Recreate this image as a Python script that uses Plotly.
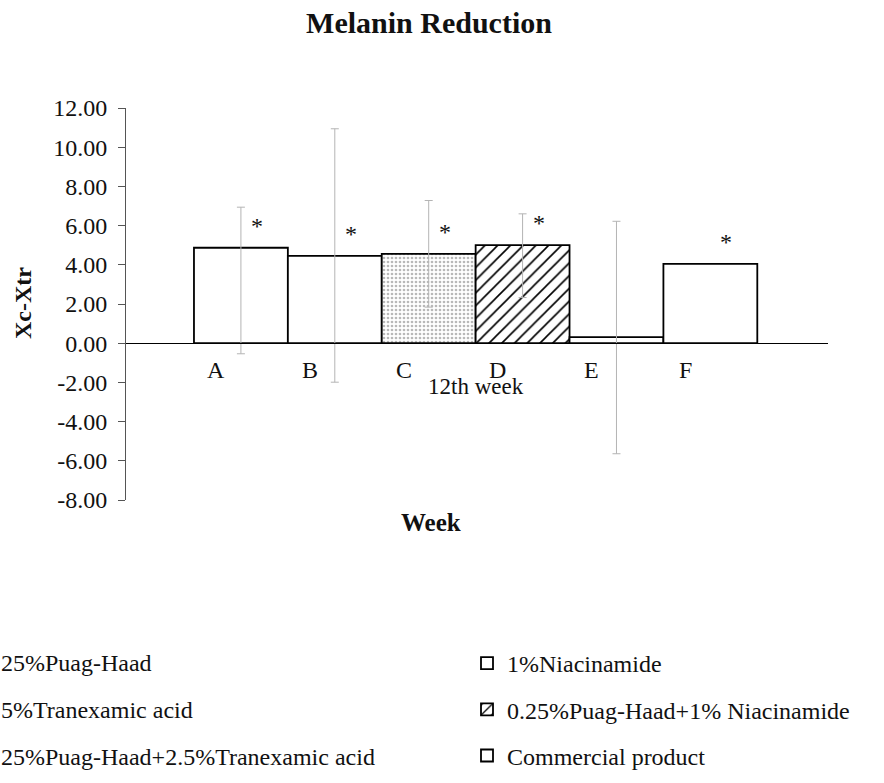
import plotly.graph_objects as go

# ---------------- data ----------------
categories = ["A", "B", "C", "D", "E", "F"]
series_names = [
    "0.25%Puag-Haad",
    "2.5%Tranexamic acid",
    "0.25%Puag-Haad+2.5%Tranexamic acid",
    "0.25%Puag-Haad+1% Niacinamide",
    "1%Niacinamide",
    "Commercial product",
]
values = [4.87, 4.46, 4.56, 5.00, 0.31, 4.05]
err_plus = [2.07, 6.48, 2.72, 1.60, 5.91, 0.0]
err_minus = [5.41, 6.45, 2.72, 2.67, 5.95, 0.0]
significance = ["*", "*", "*", "*", "", "*"]
x_tick_label = ["12th week"]
y_tick_values = [-8, -6, -4, -2, 0, 2, 4, 6, 8, 10, 12]
y_tick_labels = ["-8.00", "-6.00", "-4.00", "-2.00", "0.00", "2.00",
                 "4.00", "6.00", "8.00", "10.00", "12.00"]
# visible (cropped) legend texts of the left column
left_legend_texts = ["25%Puag-Haad", "5%Tranexamic acid",
                     "25%Puag-Haad+2.5%Tranexamic acid"]
legend_rank = [None, None, None, 2, 1, 3]

FONT = "Liberation Serif, Times New Roman, serif"

styles = [
    dict(shape="", fg="black", size=8, sol=0.2),
    dict(shape="", fg="black", size=8, sol=0.2),
    dict(shape=".", fg="#b8b8b8", size=4, sol=0.35),
    dict(shape="/", fg="black", size=9, sol=0.18),
    dict(shape="", fg="black", size=8, sol=0.2),
    dict(shape="", fg="black", size=8, sol=0.2),
]

fig = go.Figure()
for i, cat in enumerate(categories):
    st = styles[i]
    show_leg = legend_rank[i] is not None
    fig.add_trace(go.Bar(
        x=[i], y=[values[i]], width=1,
        name=series_names[i],
        legendgroup=cat,
        legendrank=legend_rank[i] if show_leg else 1000,
        showlegend=show_leg,
        marker=dict(
            color="white",
            line=dict(color="black", width=1.8),
            pattern=dict(shape=st["shape"], fgcolor=st["fg"], bgcolor="white",
                         size=st["size"], solidity=st["sol"], fillmode="replace"),
        ),
        error_y=dict(type="data", symmetric=False,
                     array=[err_plus[i]], arrayminus=[err_minus[i]],
                     visible=(err_plus[i] + err_minus[i]) > 0,
                     color="#b4b4b4", thickness=1, width=4),
    ))

# category letters below the zero line, significance marks above bars
for i, cat in enumerate(categories):
    fig.add_annotation(x=i, y=0, xref="x", yref="y", text=cat, showarrow=False,
                       xshift=-25, yshift=-27, yanchor="middle",
                       font=dict(family=FONT, size=24, color="#111"))
    if significance[i]:
        fig.add_annotation(x=i, y=values[i], xref="x", yref="y",
                           text=significance[i], showarrow=False,
                           xshift=16, yshift=7, yanchor="bottom",
                           font=dict(family=FONT, size=24, color="#111"))

# plot area in pixels: x 126..828, y 108..500
PL, PR, PT, PB = 126, 828, 108, 500
def px_x(p):
    return (p - PL) / (PR - PL)
def px_y(p):
    return (PB - p) / (PB - PT)

# axis titles
fig.add_annotation(x=px_x(23), y=px_y(303), xref="paper", yref="paper",
                   text="<b>Xc-Xtr</b>", textangle=-90, showarrow=False,
                   xanchor="center", yanchor="middle",
                   font=dict(family=FONT, size=24, color="#111"))
fig.add_annotation(x=px_x(431), y=px_y(522), xref="paper", yref="paper",
                   text="<b>Week</b>", showarrow=False,
                   xanchor="center", yanchor="middle",
                   font=dict(family=FONT, size=25, color="#111"))

# left legend column (cropped at page edge in the reference)
row_y = [663, 710, 757]
for t, ry in zip(left_legend_texts, row_y):
    fig.add_annotation(x=px_x(-1), y=px_y(ry), xref="paper", yref="paper",
                       text=t, showarrow=False, xanchor="left", yanchor="middle",
                       font=dict(family=FONT, size=24, color="#111"))

fig.update_layout(
    width=884, height=783,
    margin=dict(l=PL, r=884 - PR, t=PT, b=783 - PB, autoexpand=False),
    paper_bgcolor="white", plot_bgcolor="white",
    barmode="overlay",
    showlegend=True,
    title=dict(text="<b>Melanin Reduction</b>", x=429 / 884, xanchor="center",
               y=1 - 22 / 783, yanchor="middle",
               font=dict(family=FONT, size=30, color="#111")),
    legend=dict(x=px_x(467), y=px_y(641), xanchor="left", yanchor="top",
                traceorder="grouped", tracegroupgap=12,
                font=dict(family=FONT, size=24, color="#111"),
                bgcolor="rgba(0,0,0,0)", borderwidth=0),
    xaxis=dict(range=[-1.224, 6.253], showgrid=False, zeroline=False,
               showline=True, linecolor="black", linewidth=1,
               tickmode="array", tickvals=[2.5], ticktext=x_tick_label,
               ticks="", ticklabelstandoff=22,
               anchor="free", position=0.4,
               tickfont=dict(family=FONT, size=23, color="#111")),
    yaxis=dict(range=[-8, 12], showgrid=False, zeroline=False,
               showline=True, linecolor="#555", linewidth=1,
               tickmode="array", tickvals=y_tick_values, ticktext=y_tick_labels,
               ticks="outside", ticklen=7, tickcolor="#555",
               ticklabelstandoff=6,
               tickfont=dict(family=FONT, size=24, color="#111")),
)

fig.write_html("out.html", config={"displayModeBar": False},
               post_script="document.body.style.margin='0';")
